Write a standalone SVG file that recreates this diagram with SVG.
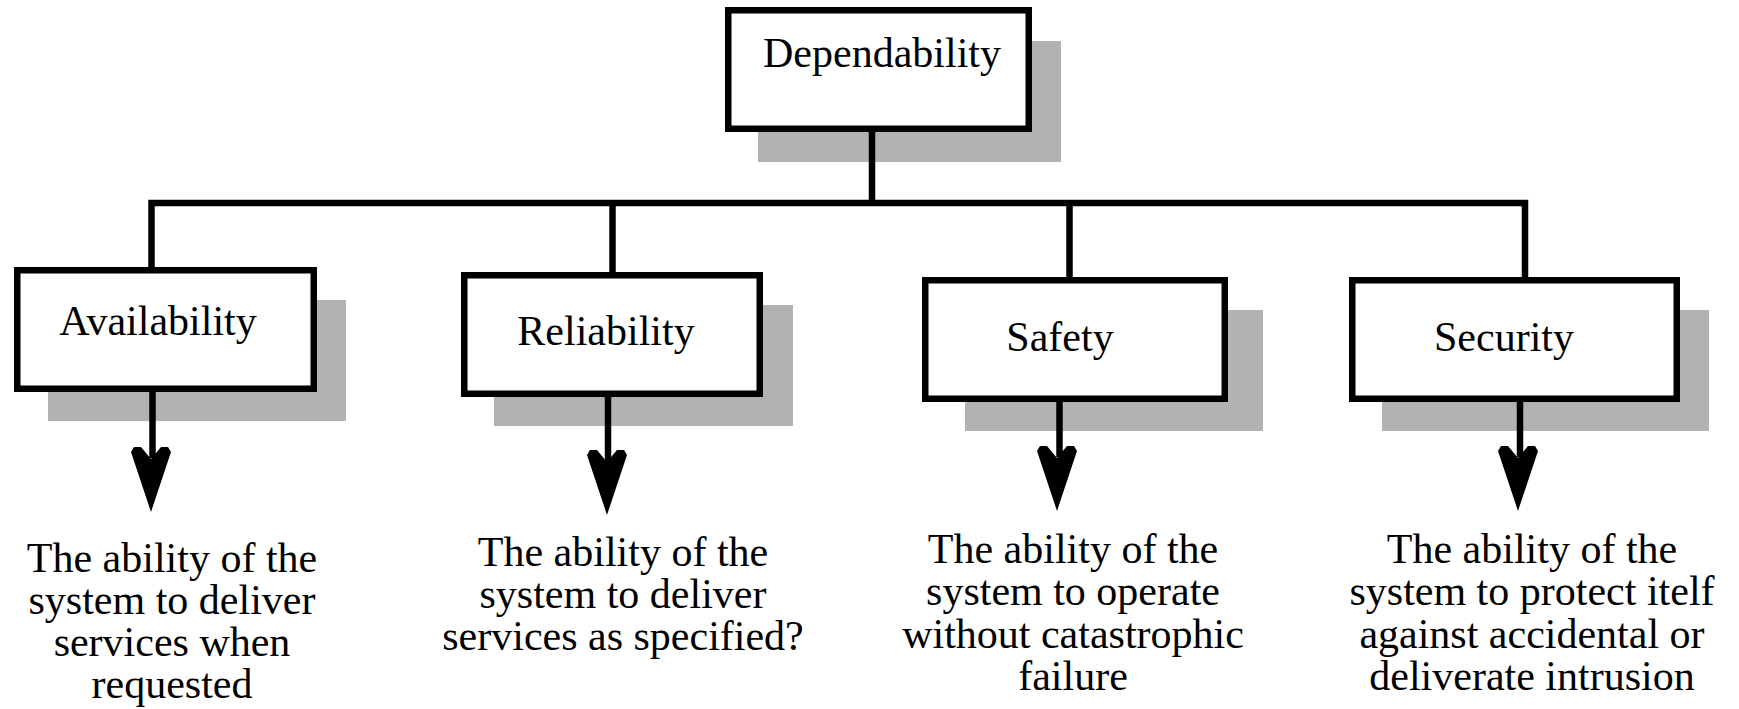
<svg xmlns="http://www.w3.org/2000/svg" xmlns:xlink="http://www.w3.org/1999/xlink" width="1739" height="709" viewBox="0 0 1739 709">
<style>
.shadow{fill:#b2b2b2;stroke:none}
.box{fill:#ffffff;stroke:#000000;stroke-width:6.5}
.lbl{font-family:"Liberation Serif","Times New Roman",serif;font-size:42px;fill:#000;text-anchor:middle}
.desc{font-family:"Liberation Serif","Times New Roman",serif;font-size:42px;fill:#000;text-anchor:middle}
.wire{fill:none;stroke:#000;stroke-width:6.5;stroke-linejoin:miter;stroke-linecap:butt}
</style>
<defs>
<path id="ah" d="M0,65 L-20,5 L-17,0 L-10,0 L0,12 L10,0 L17,0 L20,5 Z" fill="#000"/>
</defs>
<rect width="1739" height="709" fill="#ffffff"/>
<g id="node-dependability">
<rect class="shadow" x="758" y="41" width="303" height="121"/>
<rect class="box" x="728.25" y="10.25" width="300.5" height="118.5"/>
<text class="lbl" x="882" y="67" font-size="44">Dependability</text>
</g>
<g id="node-availability">
<rect class="shadow" x="48" y="300" width="298" height="121"/>
<rect class="box" x="17.25" y="270.25" width="296.5" height="118.5"/>
<text class="lbl" x="158" y="335">Availability</text>
<text class="desc" x="172" y="572">The ability of the</text>
<text class="desc" x="172" y="614">system to deliver</text>
<text class="desc" x="172" y="656">services when</text>
<text class="desc" x="172" y="698">requested</text>
</g>
<g id="node-reliability">
<rect class="shadow" x="494" y="305" width="299" height="121"/>
<rect class="box" x="464.25" y="275.25" width="295.5" height="118.5"/>
<text class="lbl" x="606" y="345">Reliability</text>
<text class="desc" x="623" y="566">The ability of the</text>
<text class="desc" x="623" y="608">system to deliver</text>
<text class="desc" x="623" y="650">services as specified?</text>
</g>
<g id="node-safety">
<rect class="shadow" x="965" y="310" width="298" height="121"/>
<rect class="box" x="925.25" y="280.25" width="299.5" height="118.5"/>
<text class="lbl" x="1060" y="351">Safety</text>
<text class="desc" x="1073" y="563">The ability of the</text>
<text class="desc" x="1073" y="605">system to operate</text>
<text class="desc" x="1073" y="648">without catastrophic</text>
<text class="desc" x="1073" y="690">failure</text>
</g>
<g id="node-security">
<rect class="shadow" x="1382" y="310" width="327" height="121"/>
<rect class="box" x="1352.25" y="280.25" width="324.5" height="118.5"/>
<text class="lbl" x="1504" y="351">Security</text>
<text class="desc" x="1532" y="563">The ability of the</text>
<text class="desc" x="1532" y="605">system to protect itelf</text>
<text class="desc" x="1532" y="648">against accidental or</text>
<text class="desc" x="1532" y="690">deliverate intrusion</text>
</g>
<g id="connectors">
<path class="wire" d="M872,132 V203"/>
<path class="wire" d="M151.5,267 V203 H1525 V277"/>
<path class="wire" d="M612.5,203 V272"/>
<path class="wire" d="M1069.5,203 V277"/>
<path class="wire" d="M152.5,392 V458"/>
<path class="wire" d="M608,397 V462"/>
<path class="wire" d="M1059.5,402 V457"/>
<path class="wire" d="M1520,402 V457"/>
<use xlink:href="#ah" x="151" y="447"/>
<use xlink:href="#ah" x="607" y="450"/>
<use xlink:href="#ah" x="1057" y="446"/>
<use xlink:href="#ah" x="1518" y="446"/>
</g>
</svg>
